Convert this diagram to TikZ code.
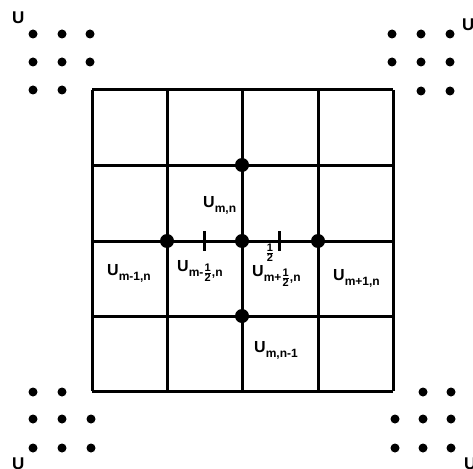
\documentclass[tikz,border=0pt]{standalone}
\usepackage{amsmath}
\usepackage{fontspec}
\setmainfont{Liberation Sans}
\newcommand\mysub[1]{\raisebox{-5pt}{\fontsize{12}{12}\selectfont #1}}
\newcommand\myhalf{{\fontsize{11}{11}\selectfont$\genfrac{}{}{0.7pt}{}{\hbox{\bfseries 1}}{\hbox{\bfseries 2}}$}}
\begin{document}
\begin{tikzpicture}[x=1pt,y=-1pt,
  gridline/.style={line width=3pt},
  tickmark/.style={line width=3pt},
  bigdot/.style={circle,fill,inner sep=0,minimum size=14pt},
  smalldot/.style={circle,fill,inner sep=0,minimum size=9pt},
  lab/.style={font=\bfseries\fontsize{16}{16}\selectfont,inner sep=0},
  cornerlab/.style={font=\bfseries\fontsize{17}{17}\selectfont,inner sep=0}]
\useasboundingbox (0,0) rectangle (473,468);
% grid
\foreach \x in {92,167,242,318,393} {\draw[gridline] (\x,90) -- (\x,391);}
\foreach \y in {90,165,241,316,391} {\draw[gridline] (92,\y) -- (393,\y);}
% big dots
\node[bigdot] (top) at (242,165) {};
\node[bigdot] (left) at (167,241) {};
\node[bigdot] (center) at (242,241) {};
\node[bigdot] (right) at (318,241) {};
\node[bigdot] (bottom) at (242,316) {};
% ticks
\coordinate (t1a) at (204,231); \coordinate (t1b) at (204,251);
\coordinate (t2a) at (279,231); \coordinate (t2b) at (279,251);
\draw[tickmark] (t1a) -- (t1b);
\draw[tickmark] (t2a) -- (t2b);
% labels
\node[lab,anchor=base west] (umn) at (203,207) {U\mysub{m,n}};
\node[lab,anchor=base west] (umm1) at (107,275) {U\mysub{m-1,n}};
\node[lab,anchor=base west] (ummh) at (177,271) {U\mysub{m-\myhalf,n}};
\node[lab,anchor=base west] (umph) at (252,276) {U\mysub{m+\myhalf,n}};
\node[lab,anchor=base west] (ump1) at (333,280) {U\mysub{m+1,n}};
\node[lab,anchor=base west] (umnm1) at (254,352) {U\mysub{m,n-1}};
\node[lab] (half) at (270,253) {\myhalf};
% corner dots
\foreach \p [count=\i] in {(33,34),(62,34),(90,34),(33,62),(62,62),(90,62),(33,90),(62,90)} {\node[smalldot] (tl\i) at \p {};}
\foreach \p [count=\i] in {(392,34),(421,34),(450,34),(392,62),(421,62),(450,62),(421,91),(450,91)} {\node[smalldot] (tr\i) at \p {};}
\foreach \p [count=\i] in {(33,392),(62,392),(33,419),(62,419),(91,419),(33,448),(62,448),(91,448)} {\node[smalldot] (bl\i) at \p {};}
\foreach \p [count=\i] in {(423,392),(451,392),(395,419),(423,419),(451,419),(395,448),(423,448),(451,448)} {\node[smalldot] (br\i) at \p {};}
% corner labels
\node[cornerlab,anchor=base west] (ctl) at (12,24) {U};
\node[cornerlab,anchor=base west] (ctr) at (462,31) {U};
\node[cornerlab,anchor=base west] (cbl) at (12,469) {U};
\node[cornerlab,anchor=base west] (cbr) at (464,469) {U};
\end{tikzpicture}
\end{document}
